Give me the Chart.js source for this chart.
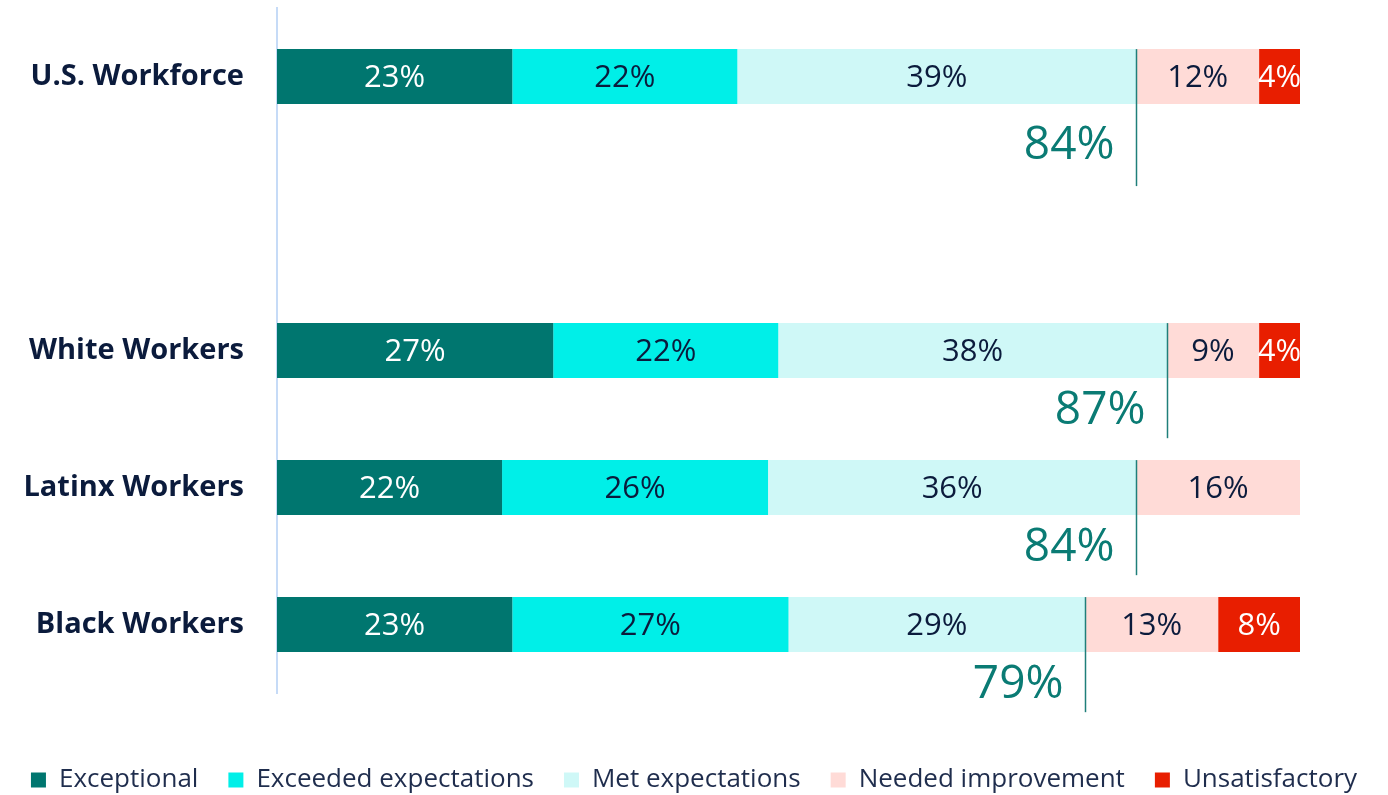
<!DOCTYPE html>
<html>
<head>
<meta charset="utf-8">
<script src="https://cdn.jsdelivr.net/npm/chart.js@4"></script>
<style>
  html, body { margin: 0; padding: 0; background: #fff; }
  #wrap { width: 1388px; height: 795px; }
</style>
</head>
<body>
<div id="wrap"><canvas id="ratingChart"></canvas></div>
<script>
// rows; the empty one is the gap under the U.S. Workforce bar
const categories = ['U.S. Workforce', '', 'White Workers', 'Latinx Workers', 'Black Workers'];

const exceptional    = [23, null, 27, 22, 23];
const exceeded       = [22, null, 22, 26, 27];
const met            = [39, null, 38, 36, 29];
const needed         = [12, null, 9, 16, 13];
const unsatisfactory = [4, null, 4, 0, 8];

const seriesNames = ['Exceptional', 'Exceeded expectations', 'Met expectations', 'Needed improvement', 'Unsatisfactory'];
const seriesColors = ['#00766F', '#00EFE8', '#CFF8F7', '#FFDBD7', '#E81E00'];
const labelColors = ['#ffffff', '#0B1B3C', '#0B1B3C', '#0B1B3C', '#ffffff'];

const FONT = '"Open Sans", "Noto Sans", sans-serif';

// percentages inside the bars + the "met or better" total under each bar
const barLabels = {
  id: 'barLabels',
  afterDatasetsDraw(chart) {
    const ctx = chart.ctx;
    const xs = chart.scales.x;
    const ys = chart.scales.y;
    ctx.save();

    ctx.font = '31px ' + FONT;
    ctx.textAlign = 'center';
    ctx.textBaseline = 'middle';
    chart.data.datasets.forEach((ds, i) => {
      const meta = chart.getDatasetMeta(i);
      meta.data.forEach((bar, j) => {
        const v = ds.data[j];
        if (!v) return;
        ctx.fillStyle = labelColors[i];
        ctx.fillText(v + '%', (bar.x + bar.base) / 2, bar.y + 2);
      });
    });

    const slot = ys.height / categories.length;
    const first = chart.getDatasetMeta(0);
    ctx.font = '46px ' + FONT;
    ctx.textAlign = 'right';
    ctx.textBaseline = 'alphabetic';
    categories.forEach((c, j) => {
      if (exceptional[j] == null) return;
      // the top row has an empty row under it, so its marker hangs lower
      const roomy = j + 1 < categories.length && exceptional[j + 1] == null;
      const total = exceptional[j] + exceeded[j] + met[j];
      const x = Math.round(xs.getPixelForValue(total)) + 0.5;
      const bar = first.data[j];
      const top = bar.y - bar.height / 2;
      ctx.strokeStyle = '#1F7F7A';
      ctx.lineWidth = 1.5;
      ctx.beginPath();
      ctx.moveTo(x, top);
      ctx.lineTo(x, top + (roomy ? slot : slot * 0.84));
      ctx.stroke();
      ctx.fillStyle = '#0A7B74';
      ctx.fillText(total + '%', x - 22, bar.y + (roomy ? 82 : 73));
    });

    ctx.restore();
  }
};

const seriesData = [exceptional, exceeded, met, needed, unsatisfactory];

new Chart(document.getElementById('ratingChart'), {
  type: 'bar',
  data: {
    labels: categories,
    datasets: seriesData.map((d, i) => ({
      label: seriesNames[i],
      data: d,
      backgroundColor: seriesColors[i],
      borderWidth: 0,
      barPercentage: 0.4,
      categoryPercentage: 1.0,
    }))
  },
  options: {
    indexAxis: 'y',
    responsive: true,
    maintainAspectRatio: false,
    animation: false,
    layout: {
      padding: { top: 8, right: 0, left: 0, bottom: -8 }
    },
    plugins: {
      legend: {
        position: 'bottom',
        labels: {
          color: '#1F2D4D',
          boxWidth: 15,
          boxHeight: 15,
          padding: 30,
          font: { family: FONT, size: 26 }
        }
      },
      tooltip: { enabled: false },
    },
    scales: {
      // hidden value axis; its box is just the gap above the legend
      x: {
        stacked: true,
        min: 0,
        max: 100,
        grid: { display: false },
        border: { display: false },
        ticks: { display: false },
        afterFit(scale) {
          scale.height = 44;
          scale.paddingLeft = 0;
          scale.paddingRight = 0;
        }
      },
      y: {
        stacked: true,
        grid: { display: false },
        border: { display: true, color: '#C6DBF7', width: 2 },
        ticks: {
          color: '#0B1B3C',
          padding: 25,
          font: { family: FONT, size: 29, weight: 'bold' }
        },
        afterFit(scale) {
          scale.width = 277;
          scale.paddingTop = 0;
          scale.paddingBottom = 0;
        }
      },
      // empty right-hand box, keeps the bars clear of the right edge
      yRight: {
        type: 'linear',
        axis: 'y',
        position: 'right',
        grid: { display: false },
        border: { display: false },
        ticks: { display: false },
        afterFit(scale) {
          scale.width = 88;
          scale.paddingTop = 0;
          scale.paddingBottom = 0;
        }
      }
    }
  },
  plugins: [barLabels]
});
</script>
</body>
</html>
